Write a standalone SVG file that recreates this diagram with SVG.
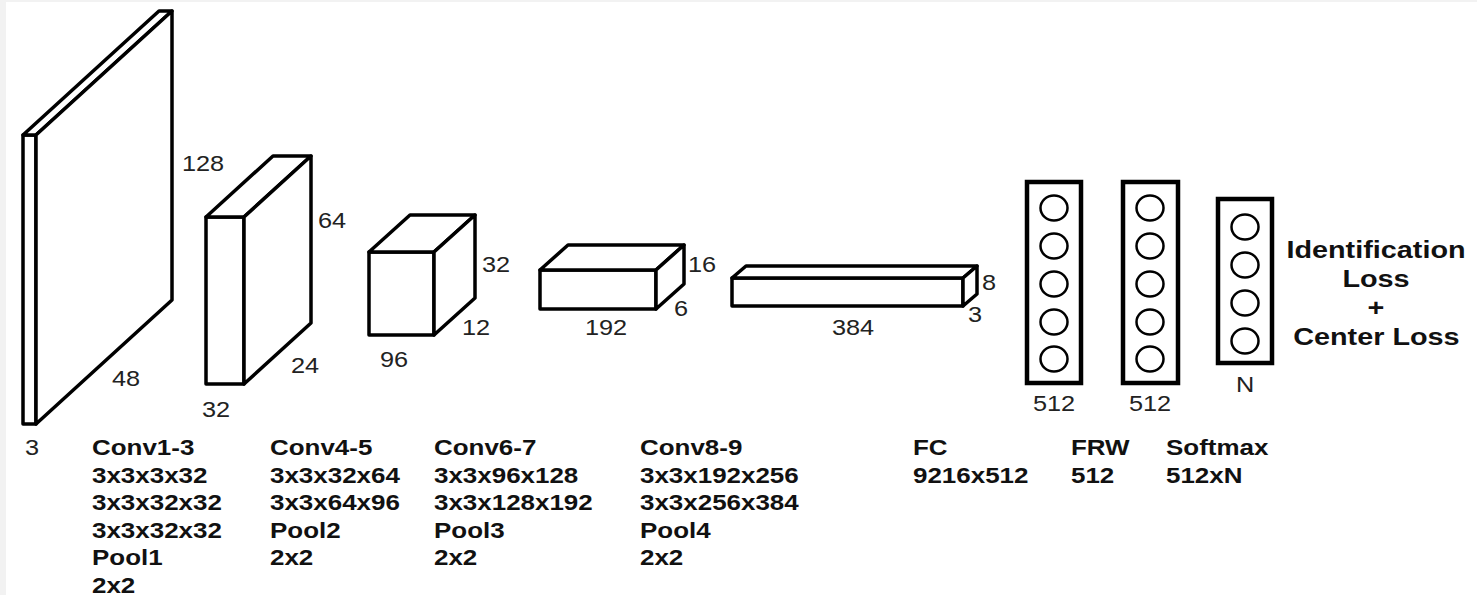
<svg xmlns="http://www.w3.org/2000/svg" width="1477" height="595" viewBox="0 0 1477 595">
<style>
.box{fill:#fff;stroke:#000;stroke-width:3.5;stroke-linejoin:round}
.fc{fill:#fff;stroke:#000;stroke-width:4.5}
.neuron{fill:#fff;stroke:#000;stroke-width:2.5}
.num{font-family:"Liberation Sans",Arial,sans-serif;font-size:22px;fill:#222}
.bold{font-family:"Liberation Sans",Arial,sans-serif;font-size:22px;font-weight:bold;fill:#111}
.loss{font-family:"Liberation Sans",Arial,sans-serif;font-size:24px;font-weight:bold;fill:#111}
</style>
<rect x="0" y="0" width="1477" height="595" fill="#f2f2f2"/>
<rect x="6" y="2" width="1471" height="593" fill="#fff"/>

<g id="input">
  <rect class="box" x="23" y="135" width="13" height="289"/>
  <polygon class="box" points="23,135 159,11 172,11 36,135"/>
  <polygon class="box" points="36,135 172,11 172,300 36,424"/>
  <text class="num" transform="translate(182,171) scale(1.15,1)">128</text>
  <text class="num" transform="translate(112,386) scale(1.15,1)">48</text>
  <text class="num" transform="translate(25,455) scale(1.15,1)">3</text>
</g>

<g id="conv1">
  <rect class="box" x="206" y="217" width="38" height="167"/>
  <polygon class="box" points="206,217 273,156 311,156 244,217"/>
  <polygon class="box" points="244,217 311,156 311,323 244,384"/>
  <text class="num" transform="translate(318,228) scale(1.15,1)">64</text>
  <text class="num" transform="translate(291,373) scale(1.15,1)">24</text>
  <text class="num" transform="translate(202,417) scale(1.15,1)">32</text>
</g>

<g id="conv2">
  <rect class="box" x="369" y="252" width="65" height="83"/>
  <polygon class="box" points="369,252 410,215 475,215 434,252"/>
  <polygon class="box" points="434,252 475,215 475,298 434,335"/>
  <text class="num" transform="translate(482,272) scale(1.15,1)">32</text>
  <text class="num" transform="translate(462,335) scale(1.15,1)">12</text>
  <text class="num" transform="translate(380,367) scale(1.15,1)">96</text>
</g>

<g id="conv3">
  <rect class="box" x="540" y="270" width="116" height="39"/>
  <polygon class="box" points="540,270 568,245 684,245 656,270"/>
  <polygon class="box" points="656,270 684,245 684,284 656,309"/>
  <text class="num" transform="translate(688,272) scale(1.15,1)">16</text>
  <text class="num" transform="translate(674,316) scale(1.15,1)">6</text>
  <text class="num" transform="translate(585,335) scale(1.15,1)">192</text>
</g>

<g id="conv4">
  <rect class="box" x="732" y="278" width="231" height="28"/>
  <polygon class="box" points="732,278 746,266 977,266 963,278"/>
  <polygon class="box" points="963,278 977,266 977,294 963,306"/>
  <text class="num" transform="translate(982,290) scale(1.15,1)">8</text>
  <text class="num" transform="translate(968,322) scale(1.15,1)">3</text>
  <text class="num" transform="translate(832,335) scale(1.15,1)">384</text>
</g>

<g id="fc">
  <rect class="fc" x="1027" y="182" width="54" height="201"/>
  <ellipse class="neuron" cx="1054" cy="208" rx="13.5" ry="12.5"/>
  <ellipse class="neuron" cx="1054" cy="246" rx="13.5" ry="12.5"/>
  <ellipse class="neuron" cx="1054" cy="284" rx="13.5" ry="12.5"/>
  <ellipse class="neuron" cx="1054" cy="322" rx="13.5" ry="12.5"/>
  <ellipse class="neuron" cx="1054" cy="359" rx="13.5" ry="12.5"/>
  <text class="num" text-anchor="middle" transform="translate(1054,411) scale(1.15,1)">512</text>
</g>

<g id="frw">
  <rect class="fc" x="1123" y="182" width="55" height="201"/>
  <ellipse class="neuron" cx="1150" cy="208" rx="13.5" ry="12.5"/>
  <ellipse class="neuron" cx="1150" cy="246" rx="13.5" ry="12.5"/>
  <ellipse class="neuron" cx="1150" cy="284" rx="13.5" ry="12.5"/>
  <ellipse class="neuron" cx="1150" cy="322" rx="13.5" ry="12.5"/>
  <ellipse class="neuron" cx="1150" cy="359" rx="13.5" ry="12.5"/>
  <text class="num" text-anchor="middle" transform="translate(1150,411) scale(1.15,1)">512</text>
</g>

<g id="softmax">
  <rect class="fc" x="1218" y="199" width="54" height="164"/>
  <ellipse class="neuron" cx="1245" cy="227" rx="13.5" ry="12.5"/>
  <ellipse class="neuron" cx="1245" cy="265" rx="13.5" ry="12.5"/>
  <ellipse class="neuron" cx="1245" cy="303" rx="13.5" ry="12.5"/>
  <ellipse class="neuron" cx="1245" cy="341" rx="13.5" ry="12.5"/>
  <text class="num" text-anchor="middle" transform="translate(1245,392) scale(1.15,1)">N</text>
</g>

<g id="loss">
  <text class="loss" text-anchor="middle" transform="translate(1380,258) scale(1.2,1)">
    <tspan x="0" y="0">Identification</tspan>
    <tspan x="0" y="29">Loss</tspan>
    <tspan x="0" y="58">+</tspan>
    <tspan x="-3" y="87">Center Loss</tspan>
  </text>
</g>

<g id="labels">
  <text class="bold" transform="translate(92,455) scale(1.18,1)">
    <tspan x="0" y="0">Conv1-3</tspan>
    <tspan x="0" y="27.6">3x3x3x32</tspan>
    <tspan x="0" y="55.2">3x3x32x32</tspan>
    <tspan x="0" y="82.8">3x3x32x32</tspan>
    <tspan x="0" y="110.4">Pool1</tspan>
    <tspan x="0" y="138">2x2</tspan>
  </text>
  <text class="bold" transform="translate(270,455) scale(1.18,1)">
    <tspan x="0" y="0">Conv4-5</tspan>
    <tspan x="0" y="27.6">3x3x32x64</tspan>
    <tspan x="0" y="55.2">3x3x64x96</tspan>
    <tspan x="0" y="82.8">Pool2</tspan>
    <tspan x="0" y="110.4">2x2</tspan>
  </text>
  <text class="bold" transform="translate(434,455) scale(1.18,1)">
    <tspan x="0" y="0">Conv6-7</tspan>
    <tspan x="0" y="27.6">3x3x96x128</tspan>
    <tspan x="0" y="55.2">3x3x128x192</tspan>
    <tspan x="0" y="82.8">Pool3</tspan>
    <tspan x="0" y="110.4">2x2</tspan>
  </text>
  <text class="bold" transform="translate(640,455) scale(1.18,1)">
    <tspan x="0" y="0">Conv8-9</tspan>
    <tspan x="0" y="27.6">3x3x192x256</tspan>
    <tspan x="0" y="55.2">3x3x256x384</tspan>
    <tspan x="0" y="82.8">Pool4</tspan>
    <tspan x="0" y="110.4">2x2</tspan>
  </text>
  <text class="bold" transform="translate(913,455) scale(1.18,1)">
    <tspan x="0" y="0">FC</tspan>
    <tspan x="0" y="27.6">9216x512</tspan>
  </text>
  <text class="bold" transform="translate(1071,455) scale(1.18,1)">
    <tspan x="0" y="0">FRW</tspan>
    <tspan x="0" y="27.6">512</tspan>
  </text>
  <text class="bold" transform="translate(1166,455) scale(1.18,1)">
    <tspan x="0" y="0">Softmax</tspan>
    <tspan x="0" y="27.6">512xN</tspan>
  </text>
</g>
</svg>
